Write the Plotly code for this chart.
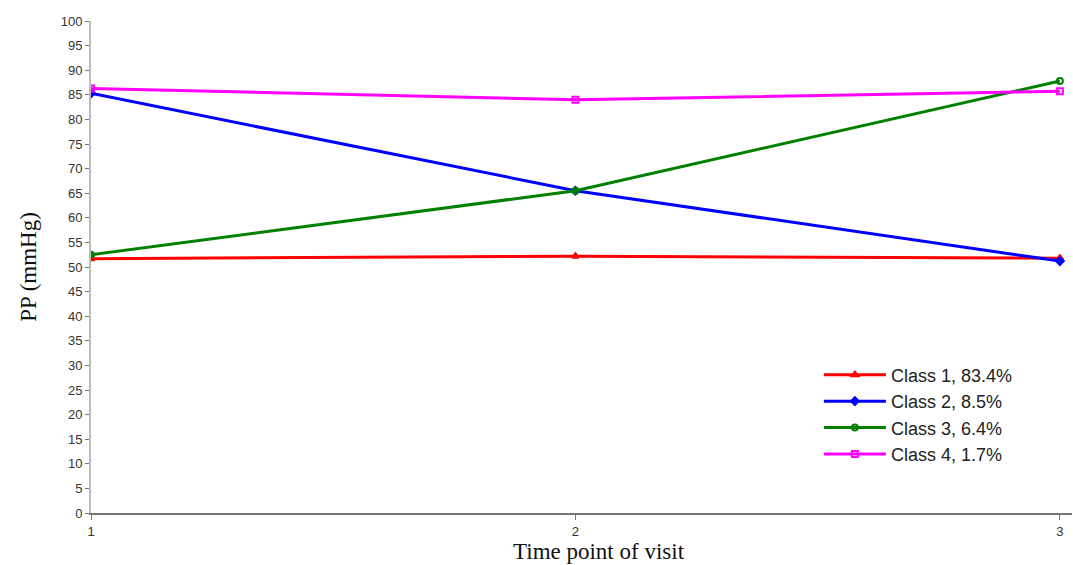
import plotly.graph_objects as go

visits = [1, 2, 3]
class1 = [51.7, 52.2, 51.8]
class2 = [85.3, 65.5, 51.2]
class3 = [52.5, 65.5, 87.8]
class4 = [86.3, 84.0, 85.7]

names = ["Class 1, 83.4%", "Class 2, 8.5%", "Class 3, 6.4%", "Class 4, 1.7%"]
colors = ["#ff0000", "#0000ff", "#008000", "#ff00ff"]
symbols = ["triangle-up", "diamond", "circle-open", "square-open"]
yticks = list(range(0, 101, 5))

fig = go.Figure()
for ys, name, col, sym in zip([class1, class2, class3, class4], names, colors, symbols):
    fig.add_trace(go.Scatter(
        x=visits, y=ys, name=name, mode="lines+markers",
        line=dict(color=col, width=3),
        marker=dict(symbol=sym, size=6, color=col, line=dict(color=col, width=2)),
    ))

# x-axis title placed as an annotation, slightly right of the plot centre
fig.add_annotation(
    text="Time point of visit", xref="paper", yref="paper",
    x=0.518, y=0, yshift=-38, xanchor="center", yanchor="middle", showarrow=False,
    font=dict(family="Liberation Serif, Times New Roman", size=23, color="#111"),
)

fig.update_layout(
    width=1073, height=565,
    margin=dict(l=91, r=1, t=21, b=52),
    plot_bgcolor="white", paper_bgcolor="white",
    showlegend=True,
    legend=dict(
        x=0.742, y=0.318, xanchor="left", yanchor="top",
        font=dict(family="Liberation Sans, Arial", size=18, color="#222"),
        bgcolor="rgba(0,0,0,0)", tracegroupgap=0, itemwidth=62,
    ),
    xaxis=dict(
        range=[1, 3.025], tickvals=visits, ticktext=["1", "2", "3"],
        showgrid=False, zeroline=False, showline=True, linecolor="#777", linewidth=2,
        ticks="outside", ticklen=5, tickcolor="#777",
        tickfont=dict(family="Liberation Sans, Arial", size=13, color="#333"),
    ),
    yaxis=dict(
        range=[0, 100], tickvals=yticks,
        showgrid=False, zeroline=False, showline=True, linecolor="#bbb", linewidth=2,
        ticks="outside", ticklen=4, tickcolor="#777",
        tickfont=dict(family="Liberation Sans, Arial", size=13, color="#333"),
        title=dict(text="PP (mmHg)", standoff=18,
                   font=dict(family="Liberation Serif, Times New Roman", size=23, color="#111")),
    ),
)

fig.write_html("out.html")
